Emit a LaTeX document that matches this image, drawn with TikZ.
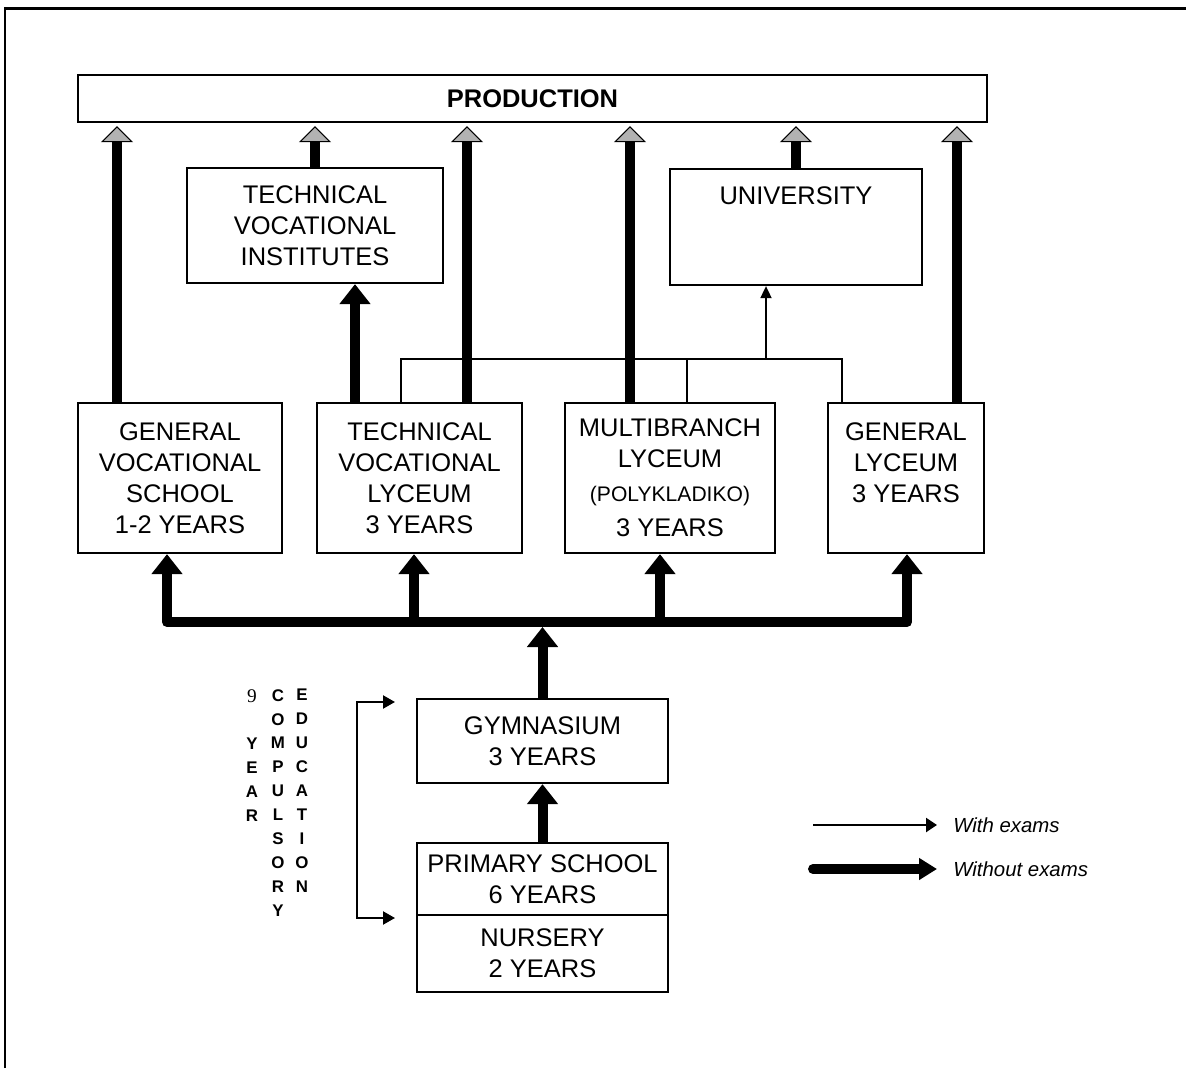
\documentclass[tikz,border=0pt]{standalone}
\usepackage{fontspec}
\setmainfont{Liberation Sans}
\newfontfamily\numfont{Liberation Serif}
\usetikzlibrary{arrows.meta,positioning}

\newcommand\boxfont{\fontsize{14.5}{17.6}\selectfont}

\tikzset{
	box/.style={draw, line width=1.3pt, align=center, inner sep=0pt, font=\boxfont},
	vert/.style={anchor=north, align=center, inner sep=0pt, font=\fontsize{9.6}{13.6}\selectfont\bfseries},
	legend/.style={anchor=west, inner sep=0pt, font=\fontsize{11.6}{13}\selectfont\itshape},
	fat/.style={line width=0.2cm, line join=round},
	slim/.style={line width=1pt},
	fattip/.tip={Triangle[width=0.6cm,length=0.4cm]},
	greytip/.tip={Triangle[width=0.64cm,length=0.32cm,fill=black!30,line width=0.6pt]},
	smalltip/.tip={Triangle[width=0.22cm,length=0.24cm]},
	tinytip/.tip={Triangle[width=0.26cm,length=0.24cm]}
}

\begin{document}
\begin{tikzpicture}[x=0.02cm, y=-0.02cm]
		\useasboundingbox (0,0) rectangle (1186,1068);
		
		%%%%% FRAME %%%%%
		\draw[line width=0.06cm] (5,1068) -- (5,9) -- (1186,9);
		
		%%%%% BOXES %%%%%
		\node[box, font=\boxfont\bfseries, minimum width=18.18cm, minimum height=0.94cm] (prod) at (532.5,98.5) {PRODUCTION};
		
		\node[box, minimum width=5.12cm, minimum height=2.3cm] (tvi) at (315,225.5) {TECHNICAL\\VOCATIONAL\\INSTITUTES};
		\node[box, minimum width=5.04cm, minimum height=2.32cm] (uni) at (796,227) {UNIVERSITY\\\mbox{}\\\mbox{}};
		
		\node[box, minimum width=4.08cm, minimum height=3cm] (gvs) at (180,478) {GENERAL\\VOCATIONAL\\SCHOOL\\1-2 YEARS};
		\node[box, minimum width=4.1cm, minimum height=3cm] (tvl) at (419.5,478) {TECHNICAL\\VOCATIONAL\\LYCEUM\\3 YEARS};
		\node[box, minimum width=4.2cm, minimum height=3cm] (mb) at (670,478) {MULTIBRANCH\\LYCEUM\\[1.7pt]{\fontsize{12}{14}\selectfont(POLYKLADIKO)}\\[2.3pt]3 YEARS};
		\node[box, minimum width=3.12cm, minimum height=3cm] (gl) at (906,478) {GENERAL\\LYCEUM\\3 YEARS\\\mbox{}};
		
		\node[box, minimum width=5.02cm, minimum height=1.68cm] (gym) at (542.5,741) {GYMNASIUM\\3 YEARS};
		\node[box, minimum width=5.02cm, minimum height=1.44cm] (prim) at (542.5,879) {PRIMARY SCHOOL\\6 YEARS};
		\node[box, minimum width=5.02cm, minimum height=1.54cm] (nurs) at (542.5,953.5) {NURSERY\\2 YEARS};
		
		%%%%% TO PRODUCTION %%%%%
		\coordinate (p1) at (117,0);
		\coordinate (p3) at (467,0);
		\coordinate (p4) at (630,0);
		\coordinate (p6) at (957,0);
		
		\draw[fat,-{greytip}] (p1 |- gvs.north) -- ([yshift=-0.06cm]p1 |- prod.south);
		\draw[fat,-{greytip}] (tvi.north) -- ([yshift=-0.06cm]tvi.north |- prod.south);
		\draw[fat,-{greytip}] (p3 |- tvl.north) -- ([yshift=-0.06cm]p3 |- prod.south);
		\draw[fat,-{greytip}] (p4 |- mb.north) -- ([yshift=-0.06cm]p4 |- prod.south);
		\draw[fat,-{greytip}] (uni.north) -- ([yshift=-0.06cm]uni.north |- prod.south);
		\draw[fat,-{greytip}] (p6 |- gl.north) -- ([yshift=-0.06cm]p6 |- prod.south);
		
		\coordinate (t1) at (355,0);
		\draw[fat,-{fattip}] (t1 |- tvl.north) -- (t1 |- tvi.south);
		
		%%%%% WITH EXAMS %%%%%
		\coordinate (e1) at (401,0);
		\coordinate (e2) at (687,0);
		\coordinate (e3) at (842,0);
		\coordinate (exj) at (766,359);
		
		\draw[slim] (e1 |- tvl.north) |- (e3 |- exj) -- (e3 |- gl.north);
		\draw[slim] (e2 |- mb.north) -- (e2 |- exj);
		\draw[slim,-{smalltip}] (exj) -- (exj |- uni.south);
		
		%%%%% WITHOUT EXAMS %%%%%
		\coordinate (bus) at (542.5,622);
		\coordinate (b1) at (167,0);
		\coordinate (b2) at (414,0);
		\coordinate (b3) at (660,0);
		\coordinate (b4) at (907,0);
		
		\draw[fat,-{fattip}] (bus) -| (b1 |- gvs.south);
		\draw[fat,-{fattip}] (bus) -| (b4 |- gl.south);
		\draw[fat,-{fattip}] (b2 |- bus) -- (b2 |- tvl.south);
		\draw[fat,-{fattip}] (b3 |- bus) -- (b3 |- mb.south);
		\draw[fat,-{fattip}] (gym.north) -- ([yshift=-0.1cm]bus);
		\draw[fat,-{fattip}] (prim.north) -- (gym.south);
		
		%%%%% COMPULSORY %%%%%
		\coordinate (brt) at (395,702);
		\coordinate (brb) at (395,918);
		\draw[slim, line width=1.2pt, {tinytip}-{tinytip}] (brt) -- ++(-38,0) |- (brb);
		
		\node[vert] (nine) at (252,689) {{\numfont\mdseries\fontsize{11}{13.6}\selectfont 9}\\\mbox{}\\Y\\E\\A\\R};
		\node[vert] (compul) at (278,689) {C\\O\\M\\P\\U\\L\\S\\O\\R\\Y};
		\node[vert] (educ) at (302,689) {E\\D\\U\\C\\A\\T\\I\\O\\N};
		
		%%%%% LEGEND %%%%%
		\node[legend] (withex) at (953,825) {With exams};
		\node[legend] (without) at (953,869) {Without exams};
		
		\draw[slim, line width=1.3pt, -{Triangle[width=0.28cm,length=0.22cm]}] ([xshift=-2.8cm]withex.west) -- ([xshift=-0.32cm]withex.west);
		\draw[fat, line cap=round, -{Triangle[width=0.42cm,length=0.36cm]}] ([xshift=-2.8cm]without.west) -- ([xshift=-0.32cm]without.west);
		
		%%%%% END %%%%%
\end{tikzpicture}
\end{document}
